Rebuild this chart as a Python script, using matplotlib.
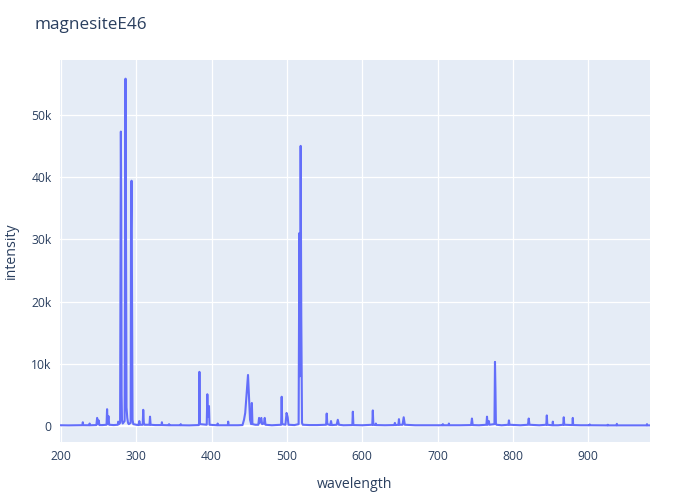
"""
Spectrum plot for magnesiteE46, styled like the plotly default template.
"""

import numpy as np
import matplotlib.pyplot as plt
from matplotlib.ticker import FuncFormatter

# wavelength (nm) and intensity
wavelength = [
    198.7, 210, 225,
    228.5, 229, 229.5,
    237.5, 238, 238.5,
    247, 248, 249, 250, 251,
    255,
    260.5, 261.2, 262, 263, 264,
    270,
    275.5, 276, 277,
    278.5, 279, 279.5, 280, 280.5, 281, 282,
    284.5, 285.2, 285.7, 286.3, 287, 288, 289, 290,
    292.5, 293, 293.7, 294.3, 295, 296,
    300,
    303, 304, 305,
    308.5, 309.2, 310, 311,
    317.5, 318.2, 319,
    325,
    333.5, 334, 334.5,
    343, 343.5, 344,
    358.5, 359, 359.5,
    370,
    383.0, 383.3, 383.8, 384.4,
    393.5, 394.3, 395, 396.5, 397.2,
    407.5, 408, 408.5,
    421.5, 422, 422.5,
    435,
    441, 443, 444.6, 447, 448.3, 449.5, 451, 452.5, 453.4, 454.2,
    458,
    462, 463, 464, 466, 467, 469.5, 470.5, 471.5,
    480,
    492.3, 493, 493.7,
    498, 499.5, 501, 502,
    510,
    515.5, 516.5, 517.3, 518.2, 519, 520, 521,
    530, 540,
    552, 552.8, 553.6,
    557.5, 558.5, 559.5,
    566, 567.5, 569,
    575,
    586.8, 587.5, 588.2,
    600,
    613.3, 614, 614.7,
    617.5, 618, 618.5,
    630,
    642.5, 643.3, 644,
    648, 648.7, 649.4,
    653.5, 655, 656.5,
    670, 690,
    706.5, 707, 707.5,
    714.5, 715, 715.5,
    730,
    744.5, 745.6, 746.6,
    755,
    764.8, 765.6, 766.4, 768, 768.8,
    775.5, 776.2, 776.8, 777.4, 778.2,
    785,
    794, 794.7, 795.5,
    810,
    820, 821, 822,
    835,
    844.3, 845, 845.7,
    852.5, 853, 853.5,
    860,
    866.8, 867.5, 868.2,
    879, 879.5, 880,
    890,
    901.5, 902, 902.5,
    915,
    925.5, 926, 926.5,
    937.5, 938, 938.5,
    955,
    977.5, 978, 978.5,
    982,
]
intensity = [
    120, 100, 130,
    130, 600, 130,
    120, 400, 120,
    150, 1300, 300, 900, 150,
    150,
    200, 2700, 400, 1600, 200,
    150,
    200, 700, 300,
    500, 27000, 47300, 35000, 5000, 1000, 400,
    800, 41000, 55800, 33600, 3000, 1300, 500, 300,
    500, 31500, 39400, 21000, 1000, 300,
    200,
    150, 800, 200,
    200, 2600, 500, 200,
    200, 1500, 200,
    150,
    150, 600, 150,
    120, 300, 120,
    120, 300, 120,
    100,
    150, 500, 8700, 300,
    200, 5100, 1500, 3200, 200,
    120, 400, 120,
    120, 700, 120,
    120,
    150, 1000, 2100, 6000, 8200, 5000, 1000, 300, 3700, 300,
    200,
    200, 1300, 500, 1300, 300, 400, 1300, 200,
    120,
    200, 4700, 300,
    200, 2100, 1400, 200,
    150,
    300, 31000, 8000, 45000, 18000, 500, 200,
    150, 150,
    200, 2000, 300,
    150, 800, 150,
    200, 1000, 200,
    120,
    150, 2300, 150,
    120,
    200, 2500, 200,
    150, 400, 150,
    120,
    150, 500, 150,
    200, 1100, 200,
    200, 1400, 200,
    120, 120,
    120, 300, 120,
    120, 400, 120,
    120,
    150, 1200, 150,
    120,
    200, 1500, 200, 800, 200,
    300, 10300, 6000, 400, 200,
    120,
    200, 900, 200,
    120,
    200, 1200, 200,
    120,
    200, 1700, 200,
    120, 700, 120,
    120,
    200, 1400, 200,
    150, 1300, 150,
    120,
    120, 250, 120,
    100,
    100, 200, 100,
    100, 350, 100,
    100,
    100, 300, 100,
    100,
]

x_ticks = [200, 300, 400, 500, 600, 700, 800, 900]
y_ticks = [0, 10000, 20000, 30000, 40000, 50000]

TEXT = "#2a3f5f"
plt.rcParams["font.family"] = ["Open Sans", "DejaVu Sans"]

fig = plt.figure(figsize=(7, 5), dpi=100)
ax = fig.add_axes([60 / 700, 58 / 500, 590 / 700, 382 / 500])
ax.set_facecolor("#E5ECF6")
for spine in ax.spines.values():
    spine.set_visible(False)

ax.set_axisbelow(True)
ax.grid(True, color="white", linewidth=0.9)
ax.axhline(0, color="white", linewidth=1.6, zorder=1)

ax.plot(np.array(wavelength), np.array(intensity), color="#636EFA", linewidth=1.5, zorder=3)

ax.set_xlim(wavelength[0], wavelength[-1])
ax.set_ylim(-2570, 58800)
ax.set_xticks(x_ticks)
ax.set_yticks(y_ticks)
ax.yaxis.set_major_formatter(FuncFormatter(lambda v, _: "0" if v == 0 else f"{int(v / 1000)}k"))
ax.tick_params(length=0, labelsize=8.7, labelcolor=TEXT)
ax.tick_params(axis="x", pad=6)
ax.tick_params(axis="y", pad=6)

ax.set_xlabel("wavelength", fontsize=10.2, color=TEXT, labelpad=10)
ax.set_ylabel("intensity", fontsize=10.2, color=TEXT, labelpad=9)
fig.text(35 / 700, 1 - 25 / 500, "magnesiteE46", fontsize=12.3, color=TEXT, va="center", ha="left")

fig.savefig("out.png", dpi=100)
plt.close(fig)
